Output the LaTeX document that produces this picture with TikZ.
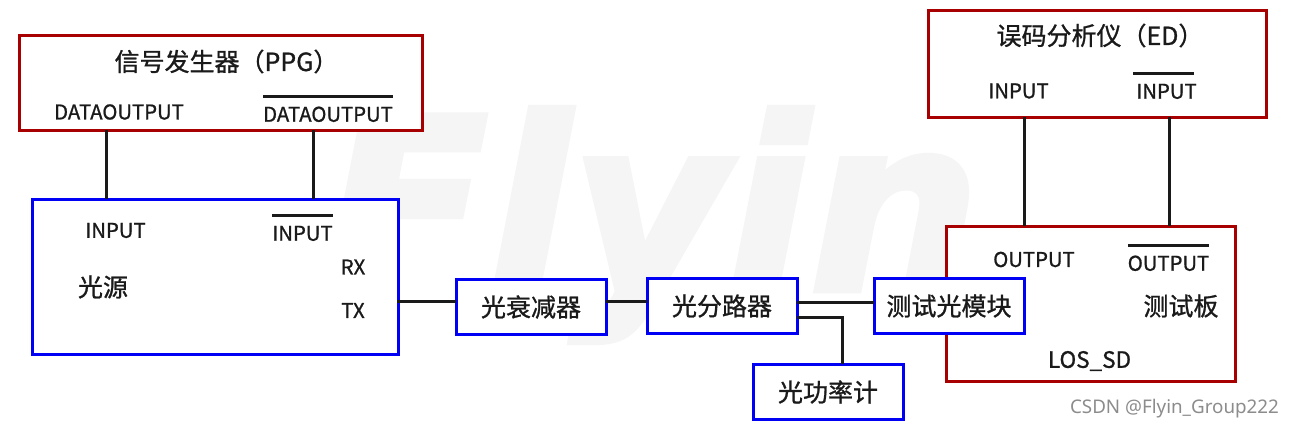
\documentclass[tikz,border=0pt]{standalone}
\usepackage{fontspec}
\setmainfont{Noto Sans CJK SC}[FakeBold=1]
\newfontfamily\wmfont{DejaVu Sans}[FakeBold=2.5]
\newfontfamily\csdnfont{Noto Sans}
\newsavebox\ovlbox
\newcommand\ovl[2][0pt]{\sbox\ovlbox{#2}\vbox{\hbox to\wd\ovlbox{\kern#1\vrule width\wd\ovlbox height 3pt\hss}\kern 3pt\copy\ovlbox}}
\definecolor{redbox}{HTML}{A80000}
\definecolor{bluebox}{HTML}{0000F5}
\definecolor{ink}{HTML}{1A1A1A}
\tikzset{
  x=1pt,y=-1pt,
  box/.style={draw,line width=3pt,rectangle,inner sep=0pt,outer sep=0pt,fill=white,text=ink},
  redb/.style={box,draw=redbox},
  blueb/.style={box,draw=bluebox,font=\fontsize{25pt}{26pt}\selectfont},
  wire/.style={draw=ink,line width=3pt},
  pin/.style={inner sep=0pt,outer sep=0pt,text=ink,font=\fontsize{20.3pt}{21pt}\selectfont},
  title/.style={inner sep=0pt,outer sep=0pt,text=ink,font=\fontsize{25pt}{26pt}\selectfont},
}
\begin{document}
\begin{tikzpicture}
\useasboundingbox (0,0) rectangle (1293,427);
\fill[white] (0,0) rectangle (1293,427);
% watermark
\node[inner sep=0pt,text=black!4] (wm) at (652,225) {\fontsize{240pt}{240pt}\selectfont\wmfont\bfseries\itshape Flyin};
% boxes
\node[redb,minimum width=403pt,minimum height=95pt] (ppg) at (220.5,83) {};
\node[blueb,minimum width=366pt,minimum height=155pt] (src) at (215,277) {};
\node[redb,minimum width=338pt,minimum height=107pt] (ed) at (1097,64) {};
\node[redb,minimum width=289pt,minimum height=155pt] (board) at (1090.5,304) {};
\node[blueb,minimum width=150pt,minimum height=55pt] (att) at (531,307) {光衰减器};
\node[blueb,minimum width=150pt,minimum height=55pt] (spl) at (722,306) {光分路器};
\node[blueb,minimum width=150pt,minimum height=55pt] (mod) at (949,306) {测试光模块};
\node[blueb,minimum width=150pt,minimum height=55pt] (pm) at (828,392) {光功率计};
% guide coordinates
\coordinate (a1) at (106,0);
\coordinate (a2) at (313,0);
\coordinate (b1) at (1024.5,0);
\coordinate (b2) at (1169.5,0);
\coordinate (tx) at (397,302);
\coordinate (y1) at (0,302);
\coordinate (y2) at (0,303);
\coordinate (y3) at (0,317.5);
\coordinate (c1) at (842.5,0);
% connectors
\draw[wire] (ppg.south -| a1) -- (src.north -| a1);
\draw[wire] (ppg.south -| a2) -- (src.north -| a2);
\draw[wire] (ed.south -| b1) -- (board.north -| b1);
\draw[wire] (ed.south -| b2) -- (board.north -| b2);
\draw[wire] (tx) -- (att.west |- tx);
\draw[wire] (att.east |- y1) -- (spl.west |- y1);
\draw[wire] (spl.east |- y2) -- (mod.west |- y2);
\draw[wire,line join=miter] (spl.east |- y3) -- (c1 |- y3) -- (c1 |- pm.north);
% labels
\node[title] (t1) at (226.5,61.5) {信号发生器（PPG）};
\node[title] (t2) at (1100,35.5) {误码分析仪（ED）};
\node[pin] (p1) at (119,112) {DATAOUTPUT};
\node[pin,anchor=south] (p2) at (328,122) {\ovl{DATAOUTPUT}};
\node[pin] (p3) at (115.5,230.5) {INPUT};
\node[pin,anchor=south] (p4) at (302.5,241) {\ovl{INPUT}};
\node[pin] (p5) at (353,267) {RX};
\node[pin] (p6) at (353,310.5) {TX};
\node[title] (p7) at (103,287) {光源};
\node[pin] (p8) at (1018.5,91) {INPUT};
\node[pin,anchor=south] (p9) at (1166.5,99) {\ovl[-3pt]{INPUT}};
\node[pin] (p10) at (1034,259.5) {OUTPUT};
\node[pin,anchor=south] (p11) at (1168.5,271) {\ovl{OUTPUT}};
\node[title] (p12) at (1181,306) {测试板};
\node[pin,font=\fontsize{22.5pt}{23pt}\selectfont] (p13) at (1089.5,361) {LOS\_SD};
\node[inner sep=0pt,text=black!45,font=\csdnfont\fontsize{18.8pt}{20pt}\selectfont] (csdn) at (1174.5,408.5) {CSDN @Flyin\_Group222};
\end{tikzpicture}
\end{document}
